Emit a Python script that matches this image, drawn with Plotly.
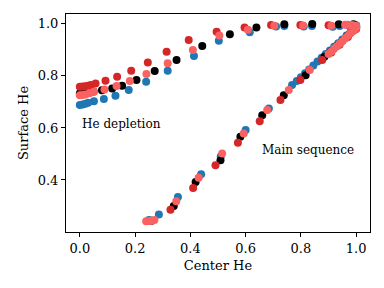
import plotly.graph_objects as go

# ---- data (Center He, Surface He) for four model tracks ----
blue_center = [0.25, 0.286, 0.355, 0.439, 0.51, 0.60, 0.684, 0.768, 0.785, 0.80, 0.815, 0.83, 0.845,
               0.86, 0.875, 0.89, 0.905, 0.92, 0.935, 0.95, 0.965, 0.98, 0.99, 1.0,
               1.0, 0.99, 0.97, 0.94, 0.915, 0.84, 0.81, 0.74, 0.71, 0.615, 0.503, 0.413, 0.318,
               0.24, 0.177, 0.129, 0.087, 0.051, 0.03, 0.02, 0.01, 0.0]
blue_surface = [0.246, 0.267, 0.335, 0.422, 0.49, 0.592, 0.675, 0.765, 0.78, 0.795, 0.81, 0.825, 0.84,
                0.855, 0.87, 0.884, 0.898, 0.912, 0.926, 0.94, 0.955, 0.97, 0.982, 0.99,
                0.995, 0.996, 0.995, 0.992, 0.989, 0.992, 0.99, 0.992, 0.99, 0.968, 0.935, 0.877, 0.82,
                0.778, 0.746, 0.724, 0.711, 0.703, 0.697, 0.693, 0.690, 0.688]

black_center = [0.26, 0.34, 0.419, 0.509, 0.581, 0.66, 0.738, 0.817, 0.885, 0.91, 0.93, 0.95, 0.97, 0.99, 1.0,
                0.99, 0.937, 0.841, 0.74, 0.639, 0.543, 0.443, 0.35, 0.271, 0.205, 0.153, 0.117,
                0.08, 0.05, 0.02, 0.0]
black_surface = [0.243, 0.30, 0.392, 0.476, 0.566, 0.649, 0.726, 0.803, 0.874, 0.895, 0.915, 0.935, 0.955, 0.975, 0.985,
                 0.999, 0.999, 1.0, 0.999, 0.986, 0.96, 0.915, 0.861, 0.819, 0.784, 0.762, 0.752,
                 0.745, 0.74, 0.735, 0.732]

red_center = [0.25, 0.328, 0.41, 0.491, 0.572, 0.651, 0.726, 0.798, 0.877, 0.91, 0.94, 0.97, 1.0,
              0.90, 0.798, 0.692, 0.596, 0.495, 0.394, 0.314, 0.246, 0.186, 0.135, 0.093, 0.057,
              0.04, 0.03, 0.02, 0.01, 0.0]
red_surface = [0.243, 0.286, 0.369, 0.457, 0.543, 0.626, 0.707, 0.784, 0.861, 0.89, 0.92, 0.95, 0.98,
               0.995, 0.996, 0.996, 0.986, 0.97, 0.938, 0.893, 0.852, 0.82, 0.797, 0.781, 0.771,
               0.765, 0.762, 0.760, 0.759, 0.758]

salmon_center = [0.24, 0.25, 0.26, 0.27, 0.349, 0.43, 0.515, 0.593, 0.678, 0.756, 0.832,
                 0.90, 0.91, 0.92, 0.93, 0.94, 0.95, 0.96, 0.97, 0.98, 0.99, 0.995, 1.0,
                 1.0, 0.99, 0.98, 0.97, 0.96, 0.91, 0.808, 0.704, 0.608, 0.505, 0.409, 0.318,
                 0.241, 0.181, 0.133, 0.089, 0.051, 0.035, 0.02, 0.01, 0.0]
salmon_surface = [0.241, 0.242, 0.243, 0.246, 0.318, 0.409, 0.502, 0.579, 0.669, 0.746, 0.823,
                  0.884, 0.894, 0.904, 0.914, 0.924, 0.934, 0.944, 0.954, 0.964, 0.974, 0.98, 0.985,
                  0.992, 0.995, 0.996, 0.997, 0.997, 0.993, 0.994, 0.993, 0.977, 0.955, 0.90, 0.849,
                  0.807, 0.78, 0.761, 0.748, 0.739, 0.733, 0.729, 0.727, 0.726]

x_ticks = [0.0, 0.2, 0.4, 0.6, 0.8, 1.0]
x_ticklabels = ["0.0", "0.2", "0.4", "0.6", "0.8", "1.0"]
y_ticks = [0.4, 0.6, 0.8, 1.0]
y_ticklabels = ["0.4", "0.6", "0.8", "1.0"]

series = [
    (blue_center, blue_surface, "#1f77b4"),
    (black_center, black_surface, "#000000"),
    (red_center, red_surface, "#d62728"),
    (salmon_center, salmon_surface, "#fa6262"),
]

FONT = "DejaVu Serif"
fig = go.Figure()
for xs, ys, col in series:
    fig.add_trace(go.Scatter(x=xs, y=ys, mode="markers",
                             marker=dict(color=col, size=8, line=dict(width=0)),
                             showlegend=False, hoverinfo="skip"))

axis_common = dict(showgrid=False, zeroline=False, showline=True, mirror=True,
                   linecolor="black", linewidth=1, ticks="outside", ticklen=4,
                   tickwidth=1, tickcolor="black", automargin=False,
                   tickfont=dict(family=FONT, size=13, color="black"))

fig.update_xaxes(range=[-0.05, 1.05], tickvals=x_ticks, ticktext=x_ticklabels,
                 title=dict(text="Center He", font=dict(family=FONT, size=13, color="black"), standoff=6),
                 **axis_common)
fig.update_yaxes(range=[0.2, 1.038], tickvals=y_ticks, ticktext=y_ticklabels,
                 title=dict(text="Surface He", font=dict(family=FONT, size=13, color="black"), standoff=6),
                 **axis_common)

fig.add_annotation(x=0.0, y=0.615, text="He depletion", showarrow=False,
                   xanchor="left", yanchor="middle", font=dict(family=FONT, size=12, color="black"))
fig.add_annotation(x=0.651, y=0.514, text="Main sequence", showarrow=False,
                   xanchor="left", yanchor="middle", font=dict(family=FONT, size=12, color="black"))

# the page body adds an 8px offset; the figure is sized so the plot area lands where the reference has it
fig.update_layout(width=368, height=272, margin=dict(l=58, r=6, t=6, b=48, autoexpand=False),
                  paper_bgcolor="white", plot_bgcolor="white",
                  font=dict(family=FONT, color="black"))

fig.write_html("out.html")
